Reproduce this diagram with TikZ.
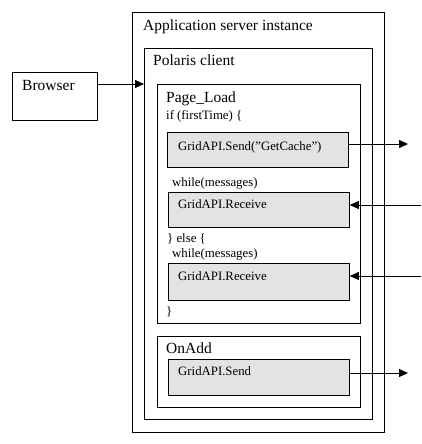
\documentclass[tikz,border=0pt]{standalone}
\usepackage{fontspec}
\setmainfont{Liberation Serif}
\usepackage{tikz}
\usetikzlibrary{arrows.meta, positioning}

\tikzset{
  frame/.style={draw, line width=0.8pt, anchor=north west, inner sep=0pt},
  call/.style={frame, fill=black!11},
  big/.style={font=\fontsize{15.5}{17}\selectfont, anchor=base west, inner sep=0pt},
  small/.style={font=\fontsize{12.8}{14}\selectfont, anchor=base west, inner sep=0pt},
}

\begin{document}
\begin{tikzpicture}[x=1pt, y=-1pt, >={Triangle[length=9pt, width=8pt]}]
  \useasboundingbox (0,0) rectangle (421,444);

  % Browser
  \node[frame, minimum width=85pt, minimum height=48pt] (browser) at (12,72) {};
  \node[big] (browsertxt) at (22,90) {Browser};

  % Application server instance
  \node[frame, minimum width=252pt, minimum height=420pt] (app) at (132,12) {};
  \node[big] (apptxt) at (143,31) {Application server instance};

  % Polaris client
  \node[frame, minimum width=228pt, minimum height=371pt] (polaris) at (144,48) {};
  \node[big] (polaristxt) at (153,66) {Polaris client};

  % Page_Load
  \node[frame, minimum width=203pt, minimum height=239pt] (pageload) at (157,84) {};
  \node[big] (pageloadtxt) at (166,102) {Page\_Load};
  \node[small] (iftxt) at (166,119) {if (firstTime) \{};
  \node[call, minimum width=181pt, minimum height=35pt] (send) at (167,132) {};
  \node[small] (sendtxt) at (178,150) {GridAPI.Send("GetCache")};
  \node[small] (while1) at (172,186) {while(messages)};
  \node[call, minimum width=181pt, minimum height=35pt] (recv1) at (168,192) {};
  \node[small] (recv1txt) at (178,208) {GridAPI.Receive};
  \node[small] (elsetxt) at (167,242) {\} else \{};
  \node[small] (while2) at (172,257) {while(messages)};
  \node[call, minimum width=181pt, minimum height=37pt] (recv2) at (168,263) {};
  \node[small] (recv2txt) at (178,280) {GridAPI.Receive};
  \node[small] (closetxt) at (166,315) {\}};

  % OnAdd
  \node[frame, minimum width=203pt, minimum height=71pt] (onadd) at (157,336) {};
  \node[big] (onaddtxt) at (166,353) {OnAdd};
  \node[call, minimum width=181pt, minimum height=36pt] (send2) at (168,359) {};
  \node[small] (send2txt) at (178,375) {GridAPI.Send};

  % connectors
  \coordinate (bport) at (97,84);
  \coordinate (out1) at (408,144);
  \coordinate (in1) at (421,205);
  \coordinate (in2) at (421,276);
  \coordinate (out2) at (408,373);
  \draw[->, line width=0.8pt] (bport) -- (bport -| polaris.west);
  \draw[->, line width=0.8pt] (send.east |- out1) -- (out1);
  \draw[->, line width=0.8pt] (in1) -- (in1 -| recv1.east);
  \draw[->, line width=0.8pt] (in2) -- (in2 -| recv2.east);
  \draw[->, line width=0.8pt] (send2.east |- out2) -- (out2);
\end{tikzpicture}
\end{document}
